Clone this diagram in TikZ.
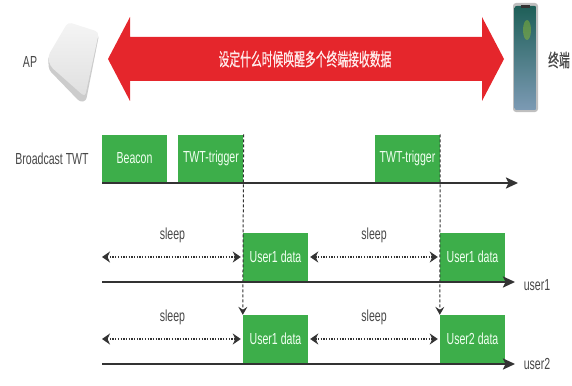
\documentclass[tikz,border=0pt]{standalone}
\usepackage{fontspec}
\setmainfont[FakeStretch=0.66]{Liberation Sans}
\newfontfamily\zhfont[FakeStretch=0.6,FakeBold=0.6]{Noto Sans CJK SC}
\usetikzlibrary{arrows.meta,positioning}
\definecolor{pktgreen}{HTML}{3DAE4A}
\definecolor{arrred}{HTML}{E5262C}
\definecolor{ink}{HTML}{333333}
\definecolor{screentop}{HTML}{1E5F58}
\definecolor{screenmid}{HTML}{4E9270}
\definecolor{screenbot}{HTML}{7C9AB4}

\begin{document}
\begin{tikzpicture}[x=1pt,y=-1pt,
	pkt/.style={fill=pktgreen,text=green!6,minimum width=65pt,minimum height=48pt,inner sep=0pt,font=\fontsize{16}{17}\selectfont},
	lbl/.style={text=ink!90,font=\fontsize{16}{17}\selectfont,inner sep=0pt},
	tl/.style={draw=ink,line width=2.2pt,-{Stealth[length=12pt,width=11pt,inset=2.5pt]}},
	nap/.style={draw=ink,line width=1.5pt,dash pattern=on 1.3pt off 1.4pt,{Stealth[length=8pt,width=11pt,inset=2.5pt]}-{Stealth[length=8pt,width=11pt,inset=2.5pt]}},
	cue/.style={draw=ink,line width=1pt,densely dashed,-{Stealth[length=8pt,width=9pt,inset=3pt]}}]
	\useasboundingbox (0,0) rectangle (572,385);

	% access point
	\fill[gray!40,rounded corners=3pt] (68,25) -- (99,35) -- (86,101) -- (80,102) -- (49,70) -- (48,58) -- cycle;
	\shade[top color=gray!8,bottom color=gray!25,rounded corners=4pt] (68,22) -- (99,32) -- (85,97) -- (50,66) -- (48,56) -- cycle;
	\node[lbl] (ap) at (30,62) {AP};

	% terminal
	\node[fill=gray!50,rounded corners=3pt,minimum width=25pt,minimum height=109pt,inner sep=0pt] (phone) at (525.5,57.5) {};
	\shade[top color=screentop,middle color=screenmid,bottom color=screenbot,rounded corners=2pt]
		(514.5,6) rectangle (536.5,110);
	\fill[yellow!70!green,opacity=0.35] (527,30) ellipse (4pt and 10pt);
	\fill[ink] (521,5) rectangle (530,8);
	\node[lbl,font=\zhfont\fontsize{18}{19}\selectfont] (term) at (559,60) {终端};

	% wake-up message
	\fill[arrred] (108,59) -- (130,17) -- (130,37) -- (482,37) -- (482,17) -- (504,59)
		-- (482,101) -- (482,81) -- (130,81) -- (130,101) -- cycle;
	\node[text=red!8,font=\zhfont\fontsize{18}{19}\selectfont] (msg) at (305,59) {设定什么时候唤醒多个终端接收数据};

	% broadcast TWT
	\node[lbl] (bc) at (52,159) {Broadcast TWT};
	\node[pkt] (beacon) at (134.5,158.5) {Beacon};
	\node[pkt] (trig1) [right=11pt of beacon] {TWT-trigger};
	\node[pkt] (trig2) at (407.5,158.5) {TWT-trigger};

	% user1 and user2
	\node[pkt,minimum height=49pt] (u1a) at (275.5,257) {User1 data};
	\node[pkt,minimum height=49pt] (u1b) at (472.5,257) {User1 data};
	\node[pkt] (u2a) at (275.5,339) {User1 data};
	\node[pkt] (u2b) at (472.5,339) {User2 data};

	\coordinate (b0) at (102,183);
	\coordinate (b1) at (518,183);
	\coordinate (p0) at (102,282);
	\coordinate (p1) at (515,282);
	\coordinate (q0) at (102,364);
	\coordinate (q1) at (515,364);
	\coordinate (s1) at (102,257);
	\coordinate (s2) at (102,339);

	\node[lbl] (user1) at (537,285) {user1};
	\node[lbl] (user2) at (537,364) {user2};

	\path (b0) edge[tl] (b1)
	      (p0) edge[tl] (p1)
	      (q0) edge[tl] (q1);

	\path (s1) edge[nap,shorten >=2pt] node[lbl,above=13pt] {sleep} (u1a)
	      (u1a) edge[nap,shorten <=2pt,shorten >=2pt] node[lbl,above=13pt] {sleep} (u1b)
	      (s2) edge[nap,shorten >=2pt] node[lbl,above=13pt] {sleep} (u2a)
	      (u2a) edge[nap,shorten <=2pt,shorten >=2pt] node[lbl,above=13pt] {sleep} (u2b);

	\path (trig1.north east) edge[cue] (u2a.north west)
	      (trig2.north east) edge[cue] (u2b.north west);
\end{tikzpicture}
\end{document}
